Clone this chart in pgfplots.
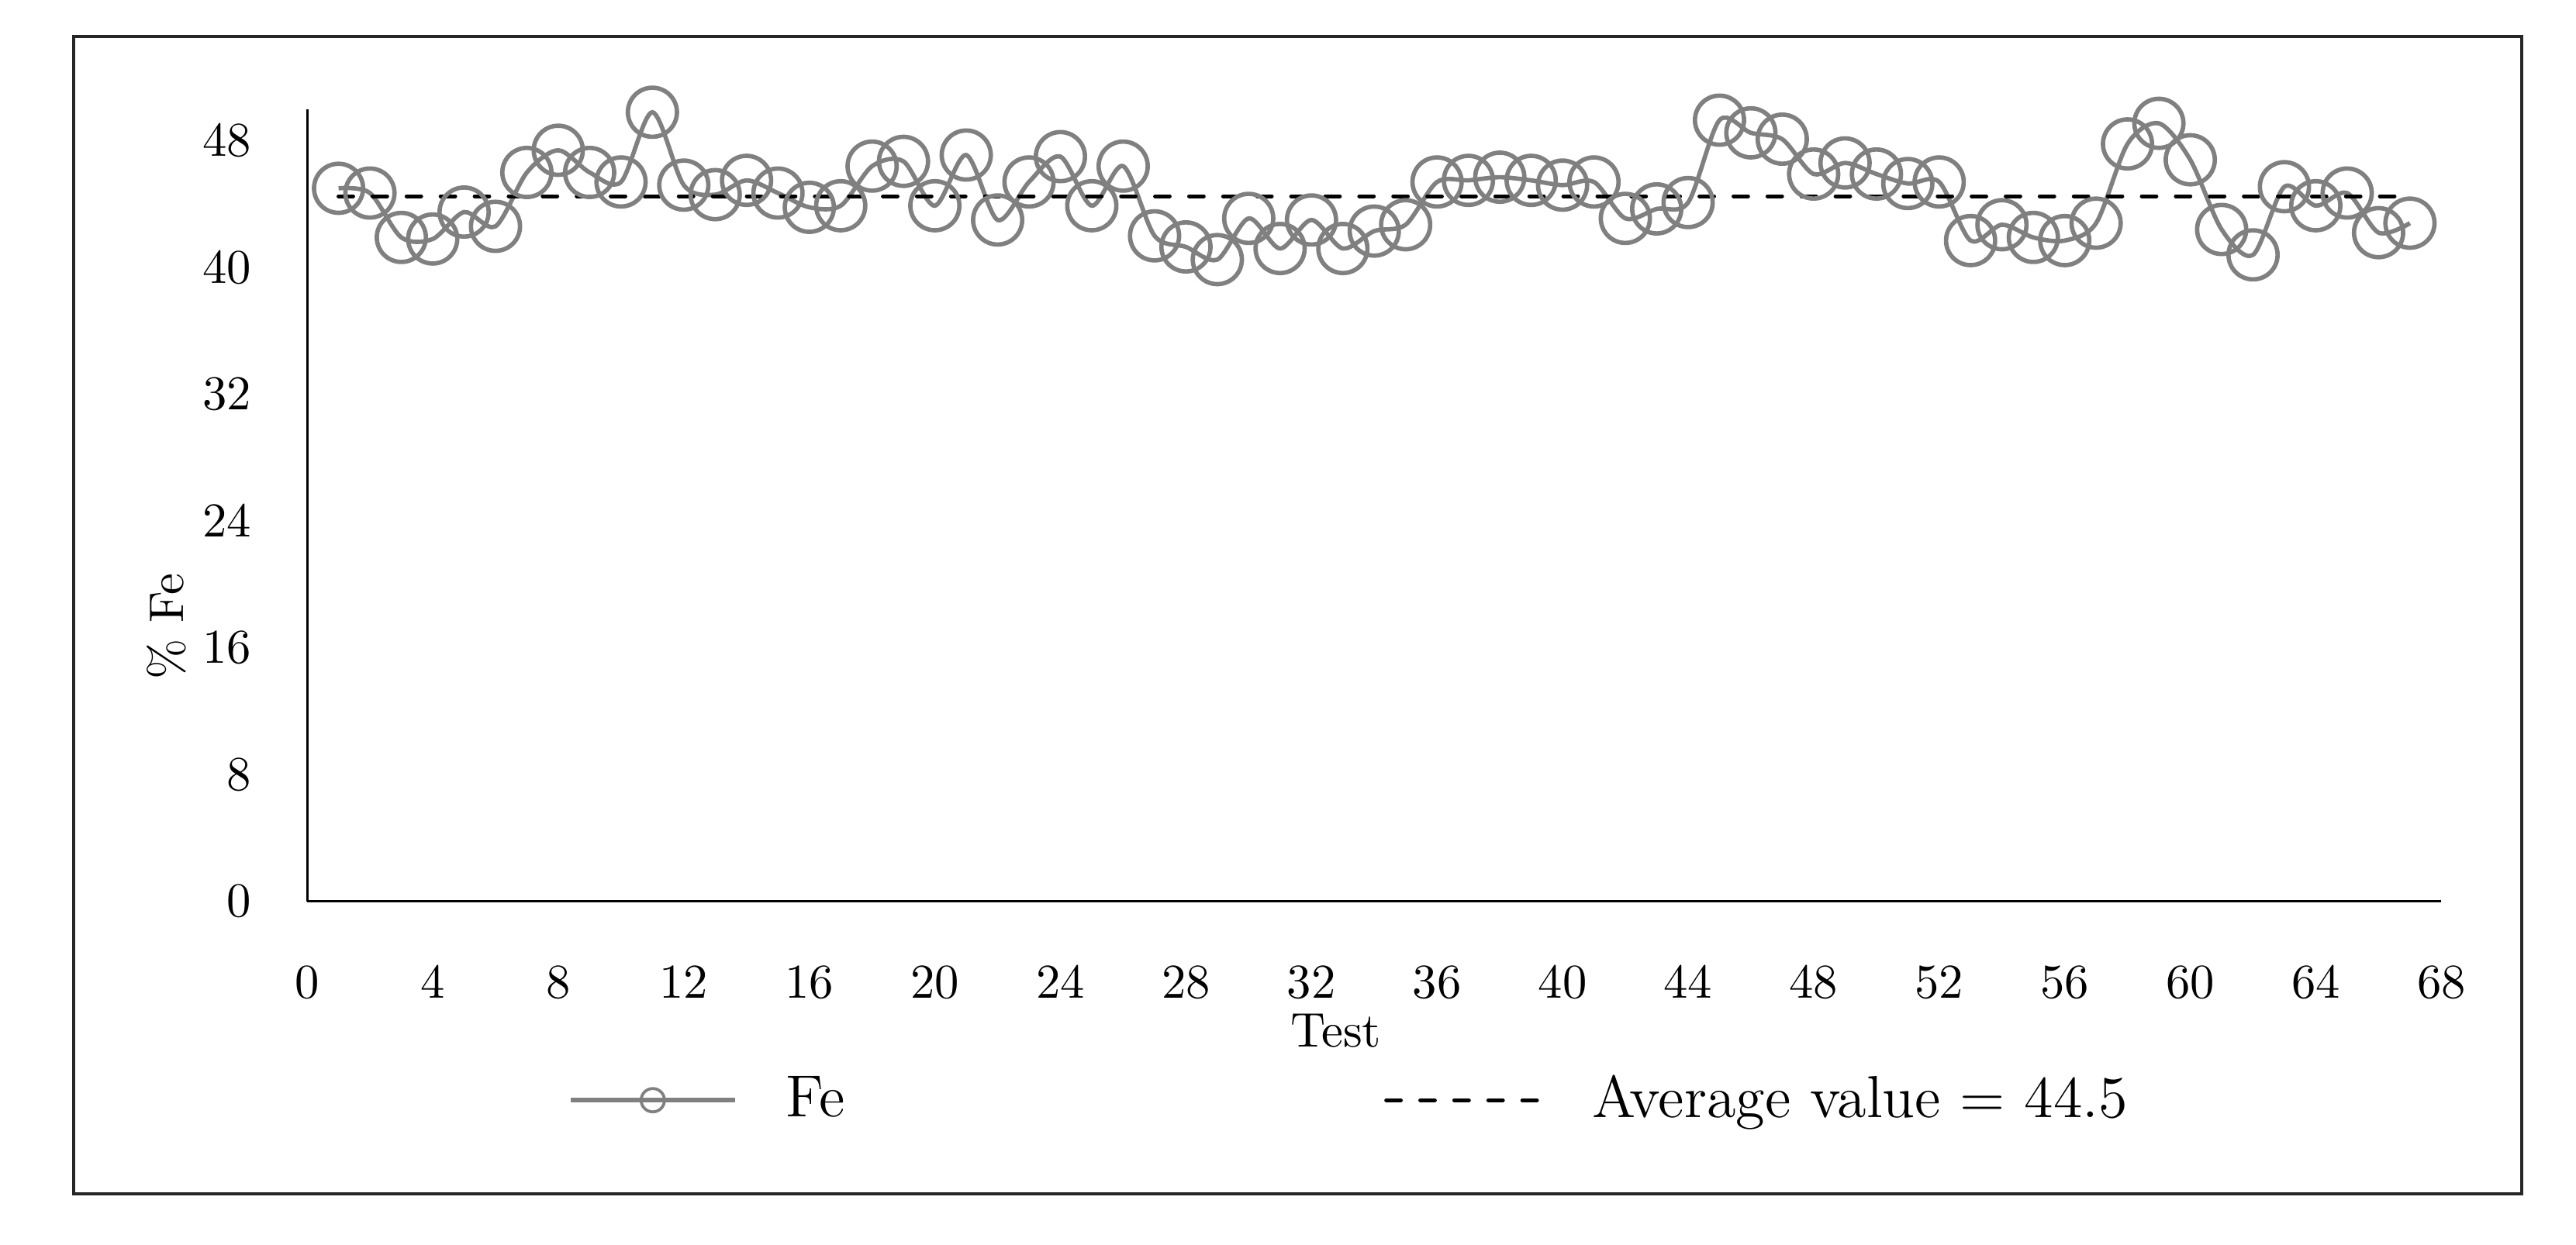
\documentclass[border=0pt]{standalone}
\usepackage{pgfplots}
\pgfplotsset{compat=1.18}
\usepackage{pgfplotstable}

% Fe content per test
\pgfplotstableread{
test fe
1 45.0
2 44.7
3 41.9
4 41.8
5 43.5
6 42.6
7 46.0
8 47.4
9 46.0
10 45.4
11 49.8
12 45.2
13 44.6
14 45.5
15 44.7
16 43.8
17 43.9
18 46.4
19 46.7
20 43.9
21 47.1
22 43.0
23 45.4
24 47.0
25 43.9
26 46.4
27 42.0
28 41.3
29 40.5
30 43.1
31 41.2
32 43.0
33 41.2
34 42.3
35 42.7
36 45.4
37 45.5
38 45.7
39 45.5
40 45.2
41 45.4
42 43.1
43 43.7
44 44.1
45 49.3
46 48.5
47 48.1
48 45.9
49 46.6
50 45.9
51 45.3
52 45.4
53 41.7
54 42.7
55 41.9
56 41.7
57 42.8
58 47.8
59 49.1
60 46.8
61 42.4
62 40.8
63 45.1
64 43.9
65 44.7
66 42.2
67 42.8
}\fedata

\begin{document}
\begin{tikzpicture}
\useasboundingbox (0,0) rectangle (530pt,256.2pt);
\draw[black!85, line width=0.6pt] (15.2pt,10.5pt) rectangle (518.8pt,248.7pt);
\begin{axis}[
  at={(63.2pt,70.7pt)}, anchor=south west,
  scale only axis, width=439.1pt, height=163.05pt,
  xmin=0, xmax=68, ymin=0, ymax=50,
  xtick={0,4,...,68}, ytick={0,8,...,48},
  axis x line*=bottom, axis y line*=left,
  axis line style={-, black, line width=0.5pt},
  major tick length=0pt,
  xticklabel style={yshift=-10pt},
  yticklabel style={xshift=-8pt},
  xlabel={Test}, ylabel={\% Fe},
  xlabel style={at={(axis description cs:0.482,-0.163)}, anchor=center},
  ylabel style={at={(axis description cs:-0.066,0.347)}, anchor=center},
  clip=false,
  legend columns=2,
  legend style={at={(axis description cs:0.490,-0.251)}, anchor=center,
    draw=none, fill=none, font=\fontsize{12.2}{14.5}\selectfont,
    /tikz/every odd column/.append style={column sep=8pt},
    /tikz/every even column/.append style={column sep=109pt}},
]
\addplot[gray, line width=0.9pt, smooth, mark=o, mark size=5.05pt,
  mark options={solid, gray, line width=0.9pt},
  legend image code/.code={
    \draw[gray, line width=1pt] (0pt,0pt) -- (33.8pt,0pt);
    \draw[gray, line width=0.6pt, fill=none] (16.9pt,0pt) circle (2.4pt);}]
  table[x=test, y=fe] {\fedata};
\addlegendentry{Fe}
\addplot[black, line width=0.8pt, dash pattern=on 3pt off 4pt, line cap=round,
  legend image code/.code={
    \draw[black, line width=0.8pt, dash pattern=on 3pt off 4pt, line cap=round] (0pt,0pt) -- (32pt,0pt);}]
  coordinates {(1,44.5) (67,44.5)};
\addlegendentry{Average value = 44.5}
\end{axis}
\end{tikzpicture}
\end{document}
